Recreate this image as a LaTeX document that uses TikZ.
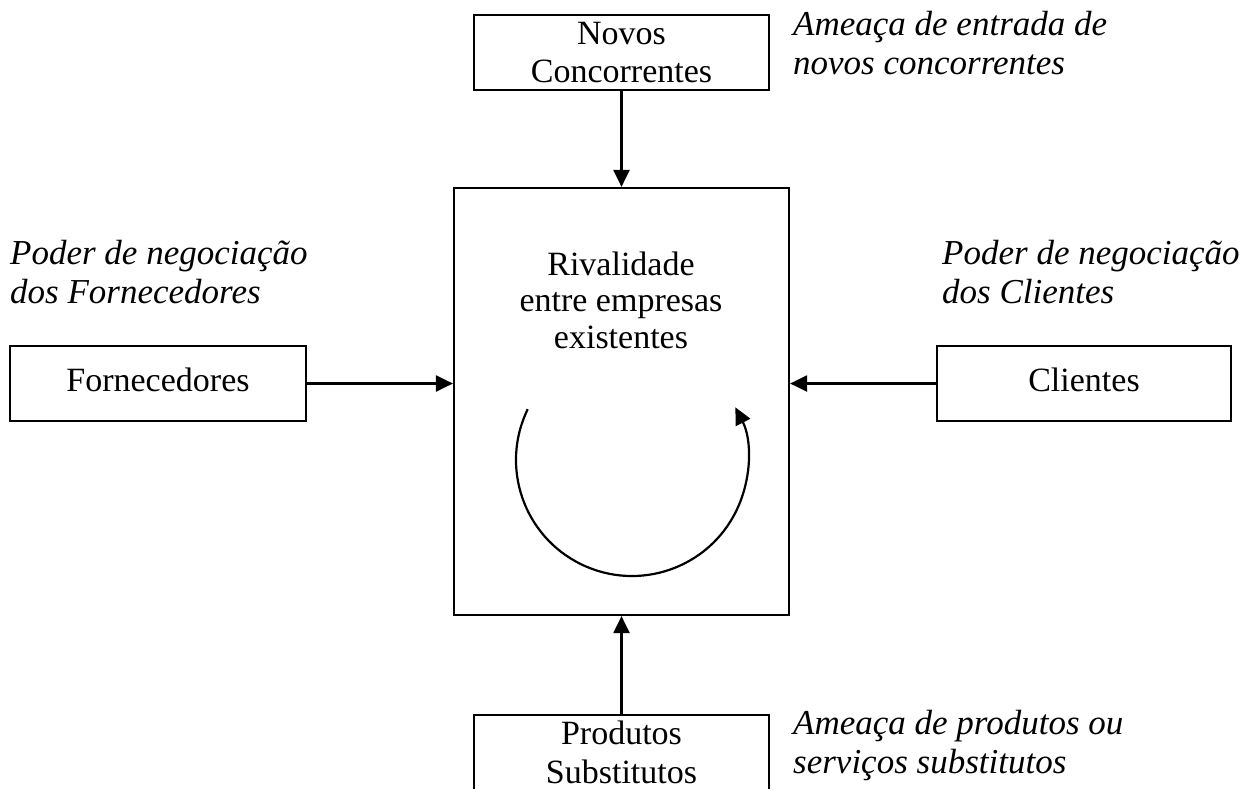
\documentclass[tikz,border=0pt]{standalone}
\usepackage{fontspec}
\setmainfont{Liberation Serif}
\usetikzlibrary{arrows.meta}
\begin{document}
\begin{tikzpicture}[x=1pt,y=-1pt,
  box/.style={draw, line width=2.2pt, minimum width=295pt, minimum height=75pt,
    inner sep=0pt, align=center, font=\fontsize{34}{38.5}\selectfont},
  force/.style={line width=2.2pt, -{Triangle[length=17pt,width=16pt]}},
  note/.style={anchor=base west, align=left, inner sep=0pt,
    font=\fontsize{35}{39}\selectfont\itshape}]
\useasboundingbox (0,0) rectangle (1245,790);
\clip (0,0) rectangle (1245,788.5);

% the five forces
\node[box] (novos) at (621.5,52.5) {Novos\\Concorrentes};
\node[box, minimum width=335pt, minimum height=427pt] (rival) at (621.5,401.5) {};
\node[align=center, inner sep=0pt, font=\fontsize{34}{36.5}\selectfont] (rivaltxt)
  at (621,300) {Rivalidade\\entre empresas\\existentes};
\node[box, minimum width=296pt, text depth=8pt] (forn) at (158,383.5) {Fornecedores};
\node[box, minimum width=294pt, text depth=8pt] (cli) at (1084,383.5) {Clientes};
\node[box] (prod) at (621.5,752.5) {Produtos\\Substitutos};

% pressures on the industry
\draw[force] (novos.south) -- (rival.north);
\draw[force] (forn.east) -- (forn.east -| rival.west);
\draw[force] (cli.west) -- (cli.west -| rival.east);
\draw[force] (prod.north) -- (rival.south);

% rivalry cycle
\coordinate (cyc) at (632,460);
\draw[force] (cyc) ++(154:116pt) arc[start angle=154, end angle=387, radius=116pt];

% descriptions (anchored at the baseline of their last line)
\node[note] (n1) at (793,74) {Ameaça de entrada de\\novos concorrentes};
\node[note] (n2) at (10,303) {Poder de negociação\\dos Fornecedores};
\node[note] (n3) at (942,303) {Poder de negociação\\dos Clientes};
\node[note] (n4) at (793,773) {Ameaça de produtos ou\\serviços substitutos};
\end{tikzpicture}
\end{document}
